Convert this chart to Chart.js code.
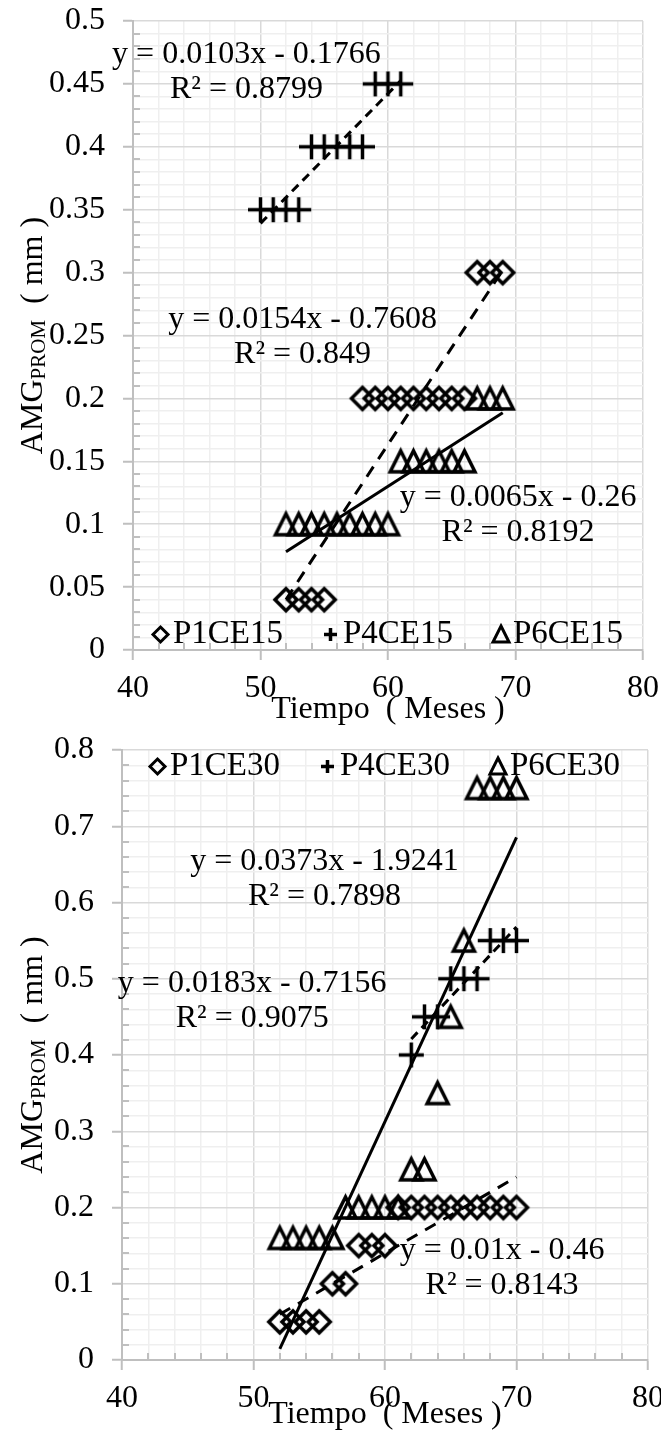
<!DOCTYPE html>
<html>
<head>
<meta charset="utf-8">
<script src="https://cdn.jsdelivr.net/npm/chart.js@4.4.1/dist/chart.umd.min.js"></script>
<style>
  html, body { margin: 0; padding: 0; background: #fff; }
  #wrap { position: relative; width: 661px; height: 1435px; overflow: hidden; }
  #c15 { position: absolute; left: 0; top: 0; }
  #c30 { position: absolute; left: 0; top: 730px; }
</style>
</head>
<body>
<div id="wrap">
  <canvas id="c15" width="661" height="730"></canvas>
  <canvas id="c30" width="661" height="705"></canvas>
</div>
<script>
// ---- data ----
const p1ce15X = [52, 53, 54, 55, 58, 59, 60, 61, 62, 63, 64, 65, 66, 67, 68, 69];
const p1ce15Y = [0.04, 0.04, 0.04, 0.04, 0.2, 0.2, 0.2, 0.2, 0.2, 0.2, 0.2, 0.2, 0.2, 0.3, 0.3, 0.3];
const p4ce15X = [50, 51, 52, 53, 54, 55, 56, 57, 58, 59, 60, 61];
const p4ce15Y = [0.35, 0.35, 0.35, 0.35, 0.4, 0.4, 0.4, 0.4, 0.4, 0.45, 0.45, 0.45];
const p6ce15X = [52, 53, 54, 55, 56, 57, 58, 59, 60, 61, 62, 63, 64, 65, 66, 67, 68, 69];
const p6ce15Y = [0.1, 0.1, 0.1, 0.1, 0.1, 0.1, 0.1, 0.1, 0.1, 0.15, 0.15, 0.15, 0.15, 0.15, 0.15, 0.2, 0.2, 0.2];

const p1ce30X = [52, 53, 54, 55, 56, 57, 58, 59, 60, 61, 62, 63, 64, 65, 66, 67, 68, 69, 70];
const p1ce30Y = [0.05, 0.05, 0.05, 0.05, 0.1, 0.1, 0.15, 0.15, 0.15, 0.2, 0.2, 0.2, 0.2, 0.2, 0.2, 0.2, 0.2, 0.2, 0.2];
const p4ce30X = [62, 63, 64, 65, 66, 67, 68, 69, 70];
const p4ce30Y = [0.4, 0.45, 0.45, 0.5, 0.5, 0.5, 0.55, 0.55, 0.55];
const p6ce30X = [52, 53, 54, 55, 56, 57, 58, 59, 60, 61, 62, 63, 64, 65, 66, 67, 68, 69, 70];
const p6ce30Y = [0.16, 0.16, 0.16, 0.16, 0.16, 0.2, 0.2, 0.2, 0.2, 0.2, 0.25, 0.25, 0.35, 0.45, 0.55, 0.75, 0.75, 0.75, 0.75];

const names15 = ['P1CE15', 'P4CE15', 'P6CE15'];
const names30 = ['P1CE30', 'P4CE30', 'P6CE30'];
const xTickLabels = ['40', '50', '60', '70', '80'];
const yTickLabels15 = ['0', '0.05', '0.1', '0.15', '0.2', '0.25', '0.3', '0.35', '0.4', '0.45', '0.5'];
const yTickLabels30 = ['0', '0.1', '0.2', '0.3', '0.4', '0.5', '0.6', '0.7', '0.8'];
const xTitle = 'Tiempo  ( Meses )';
const yTitleParts = ['AMG', 'PROM', '  ( mm )'];

// ---- helpers ----
const FAMILY = '"Liberation Serif", "Times New Roman", serif';
const FONT_PX = 32;
const TICK_PX = 32;
const GRID_MAJOR = '#d9d9d9';
const GRID_MINOR = '#efefef';
const AXIS = '#bfbfbf';

function makeMarker(kind, size, lw) {
  const pad = Math.ceil(lw * 1.6);
  const c = document.createElement('canvas');
  c.width = c.height = size + pad * 2;
  const g = c.getContext('2d');
  const m = c.width / 2, h = size / 2;
  g.strokeStyle = '#000';
  g.lineWidth = lw;
  g.beginPath();
  if (kind === 'diamond') {
    g.moveTo(m, m - h); g.lineTo(m + h, m); g.lineTo(m, m + h); g.lineTo(m - h, m); g.closePath();
  } else if (kind === 'triangle') {
    g.moveTo(m, m - h); g.lineTo(m + h, m + h); g.lineTo(m - h, m + h); g.closePath();
  } else {
    g.moveTo(m - h, m); g.lineTo(m + h, m); g.moveTo(m, m - h); g.lineTo(m, m + h);
  }
  g.stroke();
  return c;
}

const bigMarkers = {
  diamond: makeMarker('diamond', 22, 3.5),
  plus: makeMarker('plus', 25, 3.5),
  triangle: makeMarker('triangle', 21, 3.5)
};
const smallMarkers = {
  diamond: makeMarker('diamond', 15, 3),
  plus: makeMarker('plus', 13, 3.5),
  triangle: makeMarker('triangle', 16, 3)
};

function linFit(xs, ys) {
  const n = xs.length;
  const mx = xs.reduce((s, v) => s + v, 0) / n;
  const my = ys.reduce((s, v) => s + v, 0) / n;
  let sxx = 0, sxy = 0, syy = 0;
  xs.forEach((xv, i) => {
    sxx += (xv - mx) * (xv - mx);
    sxy += (xv - mx) * (ys[i] - my);
    syy += (ys[i] - my) * (ys[i] - my);
  });
  const m = sxy / sxx;
  return { m: m, b: my - m * mx, r2: sxy * sxy / (sxx * syy), x0: Math.min(...xs), x1: Math.max(...xs) };
}

const fmt = v => String(Number(v.toFixed(4)));
const eqText = f => 'y = ' + fmt(f.m) + 'x ' + (f.b < 0 ? '- ' : '+ ') + fmt(Math.abs(f.b));
const r2Text = f => 'R² = ' + fmt(f.r2);

function hasValue(list, v) {
  return list.some(s => Math.abs(Number(s) - v) < 1e-9);
}

// draws minor inward ticks, equations, legend and axis titles
const decor = {
  id: 'decor',
  beforeDatasetsDraw(chart) {
    const { ctx, chartArea: a, scales: { x, y } } = chart;
    ctx.save();
    ctx.strokeStyle = AXIS;
    ctx.lineWidth = 2;
    ctx.beginPath();
    x.ticks.forEach(t => {
      if (hasValue(xTickLabels, t.value)) return;
      const px = Math.round(x.getPixelForValue(t.value));
      ctx.moveTo(px, a.bottom); ctx.lineTo(px, a.bottom - 7);
    });
    const yMajor = chart.options.plugins.decor.yMajor;
    y.ticks.forEach(t => {
      if (hasValue(yMajor, t.value)) return;
      const py = Math.round(y.getPixelForValue(t.value));
      ctx.moveTo(a.left, py); ctx.lineTo(a.left + 7, py);
    });
    ctx.stroke();
    ctx.restore();
  },
  afterDraw(chart, args, o) {
    const { ctx, chartArea: a, scales: { x, y } } = chart;
    const font = FONT_PX + 'px ' + FAMILY;
    ctx.save();
    ctx.fillStyle = '#000';
    ctx.font = font;
    ctx.textAlign = 'center';
    ctx.textBaseline = 'middle';

    // trendline equations
    o.labels.forEach(l => {
      const px = x.getPixelForValue(l.at[0]);
      const py = y.getPixelForValue(l.at[1]);
      ctx.fillText(eqText(l.fit), px, py);
      ctx.fillText(r2Text(l.fit), px, py + 35);
    });

    // legend inside plot area
    ctx.font = '33px ' + FAMILY;
    const items = o.legend.names.map((n, i) => ({ name: n, marker: smallMarkers[o.legend.markers[i]], w: 22 + ctx.measureText(n).width }));
    const gap = 38;
    const total = items.reduce((s, it) => s + it.w, 0) + gap * (items.length - 1);
    let lx = (a.left + a.right) / 2 - total / 2;
    const ly = o.legend.fromTop ? a.top + o.legend.offset : a.bottom - o.legend.offset;
    ctx.textAlign = 'left';
    items.forEach(it => {
      ctx.drawImage(it.marker, Math.round(lx + 9 - it.marker.width / 2), Math.round(ly - it.marker.height / 2));
      ctx.fillText(it.name, lx + 21, ly);
      lx += it.w + gap;
    });

    // x title
    ctx.font = font;
    ctx.textAlign = 'center';
    ctx.fillText(xTitle, (a.left + a.right) / 2, a.bottom + o.xTitleOffset);

    // y title with subscript
    const fonts = [font, '21px ' + FAMILY, font];
    const drops = [0, 3, 0];
    const widths = yTitleParts.map((p, i) => { ctx.font = fonts[i]; return ctx.measureText(p).width; });
    const tw = widths.reduce((s, v) => s + v, 0);
    ctx.translate(o.yTitleX, (a.top + a.bottom) / 2);
    ctx.rotate(-Math.PI / 2);
    ctx.textAlign = 'left';
    ctx.textBaseline = 'alphabetic';
    let tx = -tw / 2;
    yTitleParts.forEach((p, i) => {
      ctx.font = fonts[i];
      ctx.fillText(p, tx, drops[i]);
      tx += widths[i];
    });
    ctx.restore();
  }
};

function buildChart(id, cfg) {
  const fits = cfg.series.map(s => linFit(s.x, s.y));
  const datasets = [];
  cfg.series.forEach((s, i) => {
    const f = fits[i];
    datasets.push({
      label: s.name + ' lineal',
      data: [{ x: f.x0, y: f.m * f.x0 + f.b }, { x: f.x1, y: f.m * f.x1 + f.b }],
      showLine: true,
      borderColor: '#000',
      borderWidth: 3,
      borderDash: s.dash,
      borderCapStyle: 'butt',
      pointRadius: 0,
      order: 0
    });
  });
  cfg.series.forEach(s => {
    datasets.push({
      label: s.name,
      data: s.x.map((v, j) => ({ x: v, y: s.y[j] })),
      pointStyle: bigMarkers[s.marker],
      pointRadius: 12,
      showLine: false,
      order: 1
    });
  });

  const tickFont = { family: FAMILY, size: TICK_PX };
  const yMajor = cfg.yLabels;

  return new Chart(document.getElementById(id), {
    type: 'scatter',
    data: { datasets: datasets },
    options: {
      responsive: false,
      animation: false,
      events: [],
      layout: { padding: { top: cfg.padTop, right: cfg.padRight, left: 0, bottom: 0 } },
      plugins: {
        legend: { display: false },
        tooltip: { enabled: false },
        decor: {
          yMajor: yMajor,
          labels: cfg.series.map((s, i) => ({ fit: fits[i], at: s.labelAt })),
          legend: { names: cfg.series.map(s => s.name), markers: cfg.series.map(s => s.marker), fromTop: cfg.legendTop, offset: 16 },
          xTitleOffset: cfg.xTitleOffset,
          yTitleX: 42
        }
      },
      scales: {
        x: {
          type: 'linear',
          min: 40,
          max: 80,
          ticks: {
            stepSize: 2,
            autoSkip: false,
            maxRotation: 0,
            padding: 9,
            color: '#000',
            font: tickFont,
            callback: v => hasValue(xTickLabels, v) ? xTickLabels.find(s => Math.abs(Number(s) - v) < 1e-9) : ''
          },
          grid: {
            color: c => hasValue(xTickLabels, c.tick.value) ? GRID_MAJOR : GRID_MINOR,
            lineWidth: 1.5,
            tickLength: 10,
            tickWidth: 2,
            tickColor: c => hasValue(xTickLabels, c.tick.value) ? AXIS : 'rgba(0,0,0,0)'
          },
          border: { color: AXIS, width: 2 },
          afterFit: s => { s.height = cfg.xAxisH; s.paddingLeft = 0; s.paddingRight = 0; }
        },
        y: {
          type: 'linear',
          min: 0,
          max: Number(yMajor[yMajor.length - 1]),
          ticks: {
            stepSize: cfg.yMinor,
            autoSkip: false,
            padding: 18,
            color: '#000',
            font: tickFont,
            callback: v => hasValue(yMajor, v) ? yMajor.find(s => Math.abs(Number(s) - v) < 1e-9) : ''
          },
          grid: {
            color: c => hasValue(yMajor, c.tick.value) ? GRID_MAJOR : GRID_MINOR,
            lineWidth: 1.5,
            tickLength: 10,
            tickWidth: 2,
            tickColor: c => hasValue(yMajor, c.tick.value) ? AXIS : 'rgba(0,0,0,0)'
          },
          border: { color: AXIS, width: 2 },
          afterFit: s => { s.width = cfg.yAxisW; s.paddingTop = 0; s.paddingBottom = 0; }
        }
      }
    },
    plugins: [decor]
  });
}

buildChart('c15', {
  padTop: 21, padRight: 18, yAxisW: 133, xAxisH: 80,
  yLabels: yTickLabels15, yMinor: 0.01,
  legendTop: false, xTitleOffset: 60,
  series: [
    { name: names15[0], x: p1ce15X, y: p1ce15Y, marker: 'diamond', dash: [12, 9], labelAt: [53.3, 0.263] },
    { name: names15[1], x: p4ce15X, y: p4ce15Y, marker: 'plus', dash: [9, 6], labelAt: [48.9, 0.473] },
    { name: names15[2], x: p6ce15X, y: p6ce15Y, marker: 'triangle', dash: [], labelAt: [70.2, 0.121] }
  ]
});

buildChart('c30', {
  padTop: 20, padRight: 11, yAxisW: 122, xAxisH: 75,
  yLabels: yTickLabels30, yMinor: 0.02,
  legendTop: true, xTitleOffset: 55,
  series: [
    { name: names30[0], x: p1ce30X, y: p1ce30Y, marker: 'diamond', dash: [12, 9], labelAt: [68.9, 0.143] },
    { name: names30[1], x: p4ce30X, y: p4ce30Y, marker: 'plus', dash: [9, 6], labelAt: [49.9, 0.494] },
    { name: names30[2], x: p6ce30X, y: p6ce30Y, marker: 'triangle', dash: [], labelAt: [55.4, 0.653] }
  ]
});
</script>
</body>
</html>
